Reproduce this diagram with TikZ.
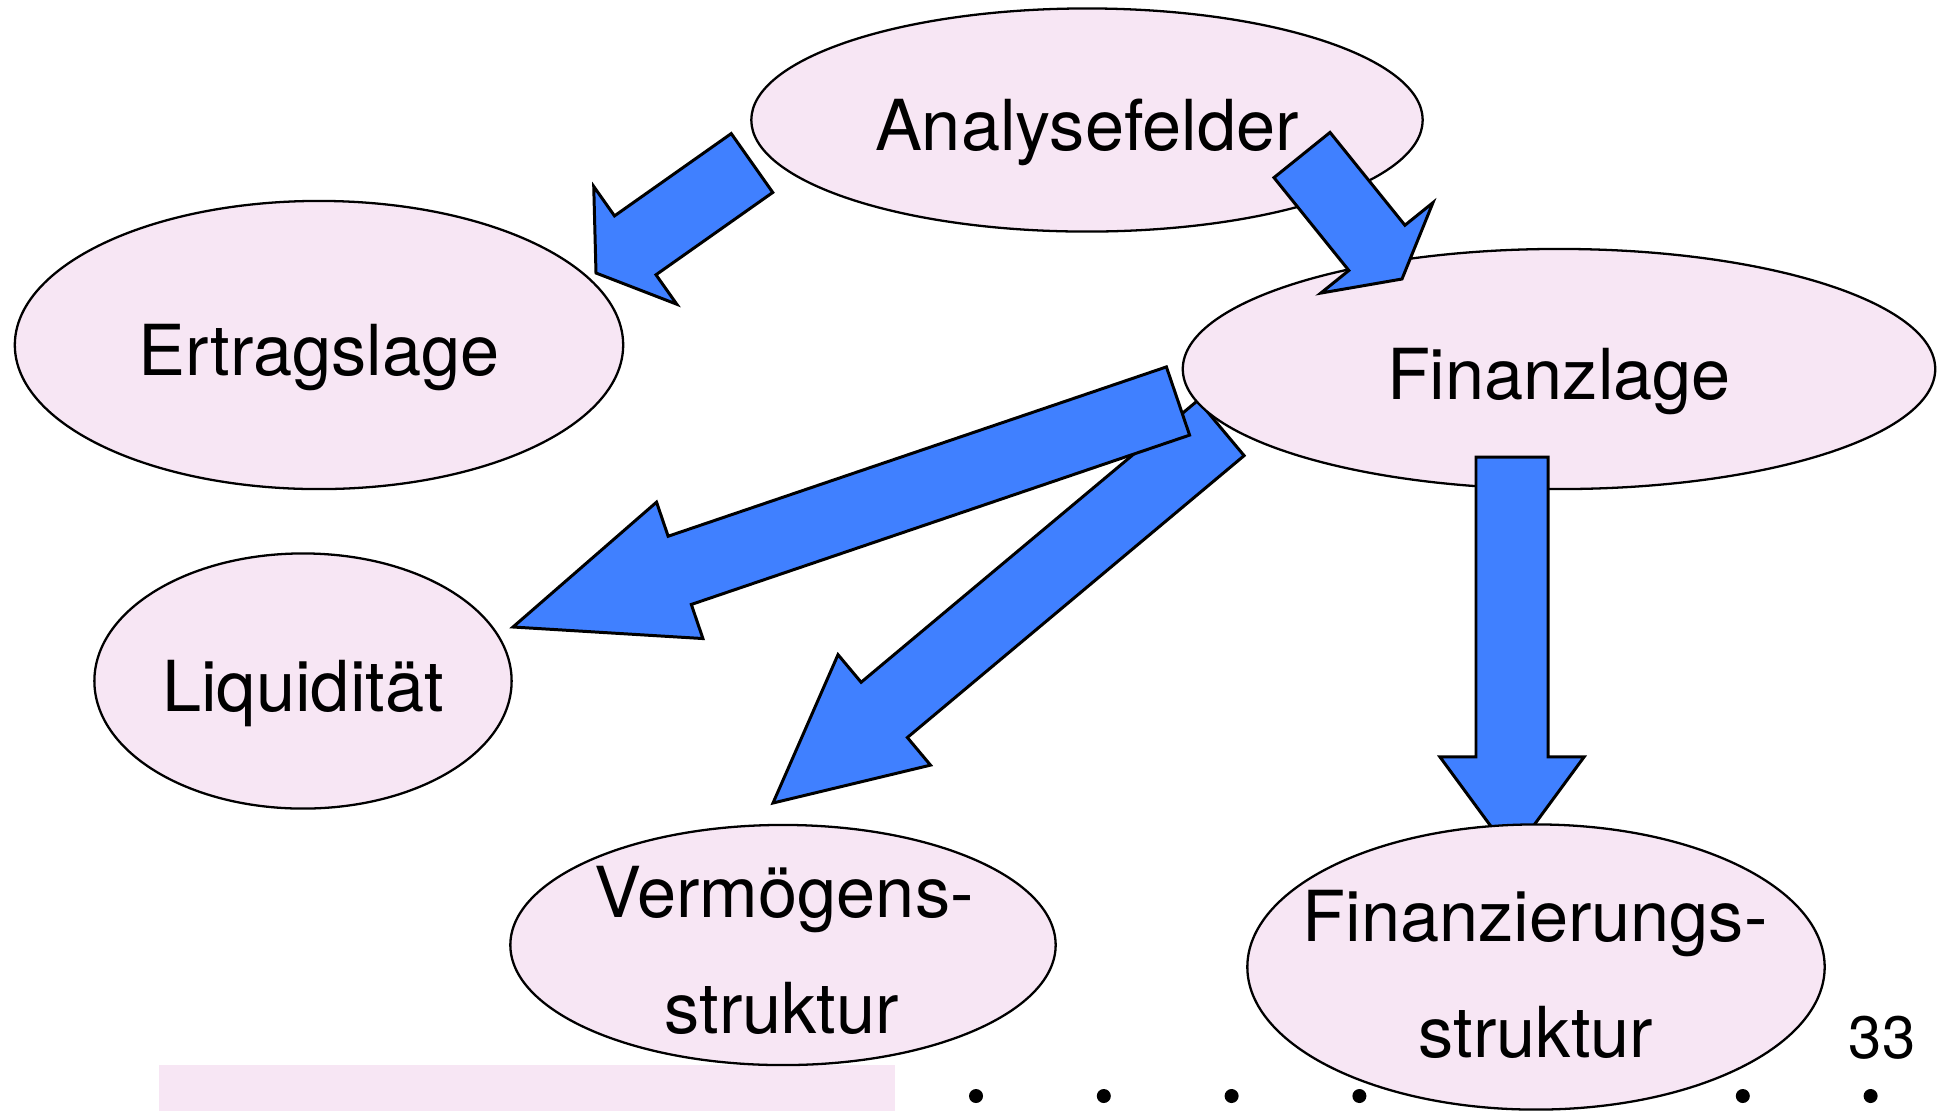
\documentclass[tikz,border=0pt]{standalone}
\usepackage{fontspec}
\setmainfont{TeX Gyre Heros}
\usepackage{xcolor}
\usetikzlibrary{
  calc,
  shapes.geometric
}

\definecolor{fieldpink}{RGB}{247,230,244}
\definecolor{arrowblue}{RGB}{64,128,255}

\tikzset{
  field/.style={ellipse, draw=black, line width=0.65pt, fill=fieldpink,
    inner sep=0pt, font=\fontsize{20}{24}\selectfont,
    text height=0.75cm, text depth=0.15cm},
  fieldtext/.style={anchor=base, inner sep=0pt, font=\fontsize{20}{24}\selectfont},
  blockarrow/.style={draw=black, line width=0.85pt, fill=arrowblue, line join=miter}
}

% block arrow: tail, tip, head length
\newcommand{\fieldarrow}[3]{%
  \coordinate (hb) at ($(#2)!#3!(#1)$);
  \draw[blockarrow] ($(#1)!0.36cm!90:(#2)$) -- ($(hb)!0.36cm!90:(#2)$)
    -- ($(hb)!0.72cm!90:(#2)$) -- (#2) -- ($(hb)!0.72cm!-90:(#2)$)
    -- ($(hb)!0.36cm!-90:(#2)$) -- ($(#1)!0.36cm!-90:(#2)$) -- cycle;
}

\begin{document}
\begin{tikzpicture}[x=0.01cm, y=-0.01cm]
      \useasboundingbox (0,0) rectangle (1942,1111);

      % Bottom strip and dots
      \fill[fieldpink] (159,1065) rectangle (895,1111);
      \foreach \i in {0,...,7}
        \fill (976+127.8*\i,1096) circle (0.07cm);

      % Fields
      \node[field, minimum width=6.71cm, minimum height=2.23cm] (ana) at (1087,120) {Analysefelder};
      \node[field, minimum width=6.08cm, minimum height=2.88cm] (ert) at (319,345) {Ertragslage};
      \node[field, minimum width=4.17cm, minimum height=2.55cm] (liq) at (303,681) {Liquidität};
      \node[field, minimum width=5.45cm, minimum height=2.40cm] (verm) at (783,945) {};
      \node[fieldtext] (verm1) at (784,917) {Vermögens-};
      \node[fieldtext] (verm2) at (782,1033) {struktur};

      % Arrow under Finanzlage
      \coordinate (fin-verm-s) at (1221,428);
      \coordinate (fin-verm-e) at (773,803);
      \fieldarrow{fin-verm-s}{fin-verm-e}{1.45cm}

      \node[field, minimum width=7.52cm, minimum height=2.40cm] (fin) at (1559,369) {Finanzlage};

      % Arrows
      \coordinate (ana-ert-s) at (752,163);
      \coordinate (ana-ert-e) at (596,273);
      \coordinate (ana-fin-s) at (1302,155);
      \coordinate (ana-fin-e) at (1402,279);
      \coordinate (fin-liq-s) at (1178,401);
      \coordinate (fin-liq-e) at (513,627);
      \coordinate (fin-fis-s) at (1512,457);
      \coordinate (fin-fis-e) at (1512,855);
      \fieldarrow{ana-ert-s}{ana-ert-e}{0.48cm}
      \fieldarrow{ana-fin-s}{ana-fin-e}{0.40cm}
      \fieldarrow{fin-liq-s}{fin-liq-e}{1.76cm}
      \fieldarrow{fin-fis-s}{fin-fis-e}{0.98cm}

      % Finanzierungsstruktur
      \node[field, minimum width=5.77cm, minimum height=2.85cm] (fis) at (1536,967) {};
      \node[fieldtext] (fis1) at (1535,941) {Finanzierungs-};
      \node[fieldtext] (fis2) at (1536,1057) {struktur};

      % Page number
      \node[fieldtext, font=\fontsize{17}{20}\selectfont] (page) at (1882,1058) {33};
    \end{tikzpicture}
\end{document}
